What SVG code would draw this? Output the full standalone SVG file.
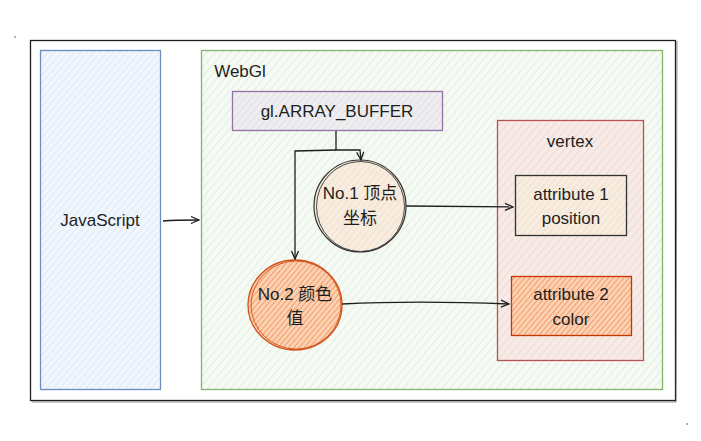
<svg xmlns="http://www.w3.org/2000/svg" width="701" height="441" viewBox="0 0 701 441">
<style>
text{font-family:"Liberation Sans","Noto Sans CJK SC",sans-serif;font-size:17px;fill:#1e1e1e;text-anchor:middle;dominant-baseline:central}
.conn{fill:none;stroke:#1e1e1e;stroke-width:1.3}
</style>
<defs>
<pattern id="hBlue" width="5" height="5" patternUnits="userSpaceOnUse" patternTransform="rotate(40)"><rect width="5" height="5" fill="#f1f6fd"/><line x1="0" y1="0" x2="0" y2="5" stroke="#d2e1f7" stroke-width="1.2"/></pattern>
<pattern id="hGreen" width="6" height="6" patternUnits="userSpaceOnUse" patternTransform="rotate(40)"><rect width="6" height="6" fill="#f6faf5"/><line x1="0" y1="0" x2="0" y2="6" stroke="#d3e7cf" stroke-width="1.2"/></pattern>
<pattern id="hGrey" width="5" height="5" patternUnits="userSpaceOnUse" patternTransform="rotate(40)"><rect width="5" height="5" fill="#eeedef"/><line x1="0" y1="0" x2="0" y2="5" stroke="#dad8dc" stroke-width="1.2"/></pattern>
<pattern id="hRed" width="6" height="6" patternUnits="userSpaceOnUse" patternTransform="rotate(40)"><rect width="6" height="6" fill="#f6ebe7"/><line x1="0" y1="0" x2="0" y2="6" stroke="#f1d0cb" stroke-width="1.4"/></pattern>
<pattern id="hPeach" width="5" height="5" patternUnits="userSpaceOnUse" patternTransform="rotate(40)"><rect width="5" height="5" fill="#f6ede2"/><line x1="0" y1="0" x2="0" y2="5" stroke="#fad7b4" stroke-width="1.3"/></pattern>
<pattern id="hOrange" width="4" height="4" patternUnits="userSpaceOnUse" patternTransform="rotate(40)"><rect width="4" height="4" fill="#fbd2b3"/><line x1="0" y1="0" x2="0" y2="4" stroke="#f07a3a" stroke-width="1.2"/></pattern>
<marker id="arr" markerWidth="10" markerHeight="10" refX="9" refY="5" orient="auto" markerUnits="userSpaceOnUse"><path d="M1,1.5 L9,5 L1,8.5" fill="none" stroke="#1e1e1e" stroke-width="1.3"/></marker>
</defs>
<circle cx="15" cy="37" r="0.8" fill="#555"/>
<circle cx="687" cy="424" r="0.8" fill="#555"/>
<g id="outer"><rect x="30.5" y="40.5" width="645" height="360" fill="#ffffff" stroke="#1e1e1e" stroke-width="1.3"/><path d="M32,402 L676,402 L677,41" fill="none" stroke="#444" stroke-width="1" opacity="0.6"/></g>
<g id="javascript"><rect x="40.5" y="50.5" width="120" height="339" fill="url(#hBlue)" stroke="#6c8ebf" stroke-width="1.3"/><text x="100" y="220">JavaScript</text></g>
<g id="webgl"><rect x="201.5" y="50.5" width="461" height="339" fill="url(#hGreen)" stroke="#82b366" stroke-width="1.3"/><text x="240" y="71">WebGl</text></g>
<g id="buffer"><rect x="232.5" y="91.5" width="210" height="39" fill="url(#hGrey)" stroke="#9673a6" stroke-width="1.3"/><text x="337" y="111">gl.ARRAY_BUFFER</text></g>
<g id="vertex"><rect x="497.5" y="120.5" width="146" height="240" fill="url(#hRed)" stroke="#b85450" stroke-width="1.3"/><text x="570" y="141">vertex</text></g>
<g id="attr1"><rect x="515.5" y="175.5" width="111" height="60" fill="url(#hPeach)" stroke="#333333" stroke-width="1.3"/><text x="571" y="194">attribute 1</text><text x="571" y="218">position</text></g>
<g id="attr2"><rect x="511.5" y="276.5" width="120" height="59" fill="url(#hOrange)" stroke="#c73500" stroke-width="1.3"/><text x="571" y="294">attribute 2</text><text x="571" y="319">color</text></g>
<g id="no1"><ellipse cx="360" cy="206" rx="46" ry="46" fill="url(#hPeach)" stroke="#333333" stroke-width="1.2"/><ellipse cx="360.5" cy="206.5" rx="44" ry="45" fill="none" stroke="#333333" stroke-width="0.9"/><text x="360" y="193">No.1 顶点</text><text x="360" y="218">坐标</text></g>
<g id="no2"><ellipse cx="295" cy="305" rx="47" ry="45" fill="url(#hOrange)" stroke="#d0521a" stroke-width="1.3"/><ellipse cx="296" cy="305" rx="45" ry="44" fill="none" stroke="#d0521a" stroke-width="0.9"/><text x="295" y="294">No.2 颜色</text><text x="295" y="318">值</text></g>
<g id="connectors">
<path class="conn" d="M163,221 C175,220 185,220 199,220" marker-end="url(#arr)"/>
<path class="conn" d="M336,131 L336,150 L360,150 L361,160" marker-end="url(#arr)" stroke-width="1.6"/>
<path class="conn" d="M336,150 L295,151 L295,259" marker-end="url(#arr)"/>
<path class="conn" d="M406,206 L513,207" marker-end="url(#arr)"/>
<path class="conn" d="M342,304 C400,301 460,302 509,304" marker-end="url(#arr)"/>
</g>
</svg>
